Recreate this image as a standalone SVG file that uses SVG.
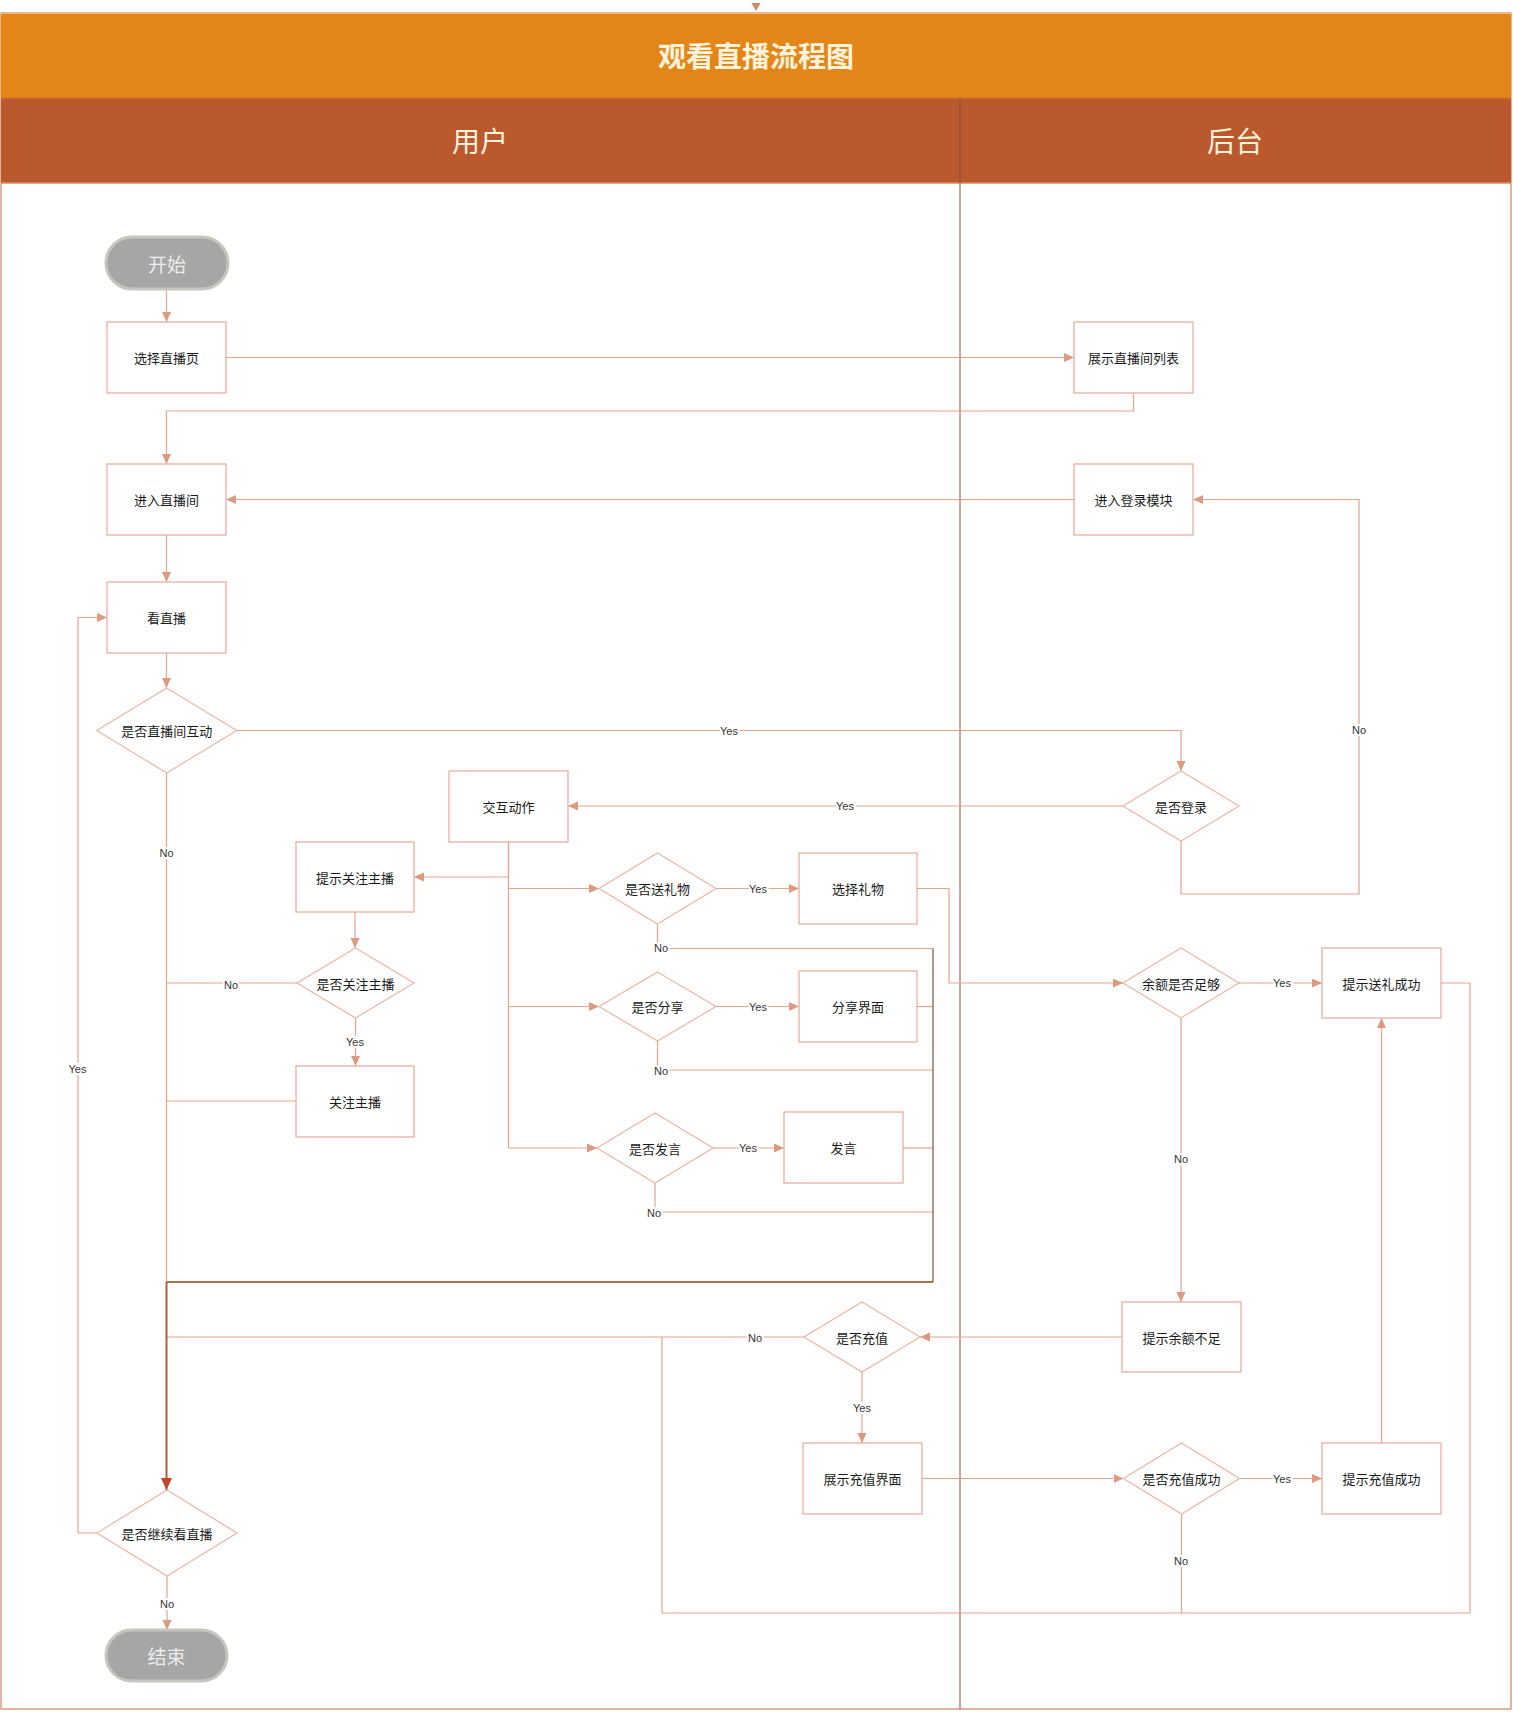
<svg xmlns="http://www.w3.org/2000/svg" width="1513" height="1712" viewBox="0 0 1513 1712">
<style>
.nd{fill:#fff;stroke:#E3AB9C;stroke-width:1.2}
.dm{fill:#fff;stroke:#E6B8A8;stroke-width:1.2}
.tx{font-family:"Noto Sans CJK SC","Liberation Sans",sans-serif;font-size:13px;fill:#1a1a1a;text-anchor:middle;dominant-baseline:central}
.lb{font-family:"Liberation Sans","Noto Sans CJK SC",sans-serif;font-size:11px;fill:#333;text-anchor:middle;dominant-baseline:central;stroke:#fff;stroke-width:4;paint-order:stroke}
.cn{fill:none;stroke:#E2A68E;stroke-width:1.2}
.dk{fill:none;stroke:#A8704F;stroke-width:2.2}
.dv{fill:none;stroke:#8E6A5C;stroke-width:1.4}
.st{fill:#A6A6A6;stroke:#C6C6BE;stroke-width:3}
.stt{font-family:"Noto Sans CJK SC",sans-serif;font-size:19px;fill:#EDEDED;text-anchor:middle;dominant-baseline:central}
.hd{font-family:"Noto Sans CJK SC",sans-serif;font-size:28px;fill:#FFF3DC;text-anchor:middle;dominant-baseline:central}
</style>
<defs>
<marker id="ar" markerUnits="userSpaceOnUse" markerWidth="11" markerHeight="10" refX="10" refY="4.5" orient="auto">
<path d="M0,0 L10,4.5 L0,9 z" fill="#DC9A7E"/>
</marker>
<marker id="ard" markerUnits="userSpaceOnUse" markerWidth="13" markerHeight="12" refX="12" refY="5.5" orient="auto">
<path d="M0,0 L12,5.5 L0,11 z" fill="#C0452A"/>
</marker>
</defs>
<rect x="0" y="0" width="1513" height="1712" fill="#fff"/>
<g id="frame">
<rect x="1" y="13" width="1510" height="1696" fill="none" stroke="#C9855A" stroke-width="1.2"/>
<rect x="1" y="13" width="1510" height="85" fill="#E48517"/>
<line x1="1" y1="13.5" x2="1511" y2="13.5" stroke="#F2C070" stroke-width="1"/>
<rect x="1" y="98" width="1510" height="85" fill="#BA592E"/>
<line x1="1" y1="98.5" x2="1511" y2="98.5" stroke="#C8642E" stroke-width="1.5"/>
<line x1="1" y1="183" x2="1511" y2="183" stroke="#D98C6A" stroke-width="1.5"/>
<line x1="960" y1="98" x2="960" y2="1709" stroke="#8B4E3E" stroke-width="1"/>
<polygon points="751.5,3 760.5,3 756,11" fill="#D08A60"/>
<text class="hd" x="756" y="55" font-weight="bold">观看直播流程图</text>
<text class="hd" x="480" y="140">用户</text>
<text class="hd" x="1235" y="140">后台</text>
</g>
<g id="connectors">
<path class="cn" d="M166.5,289 V322" marker-end="url(#ar)"/>
<path class="cn" d="M226,357.5 H1074" marker-end="url(#ar)"/>
<path class="cn" d="M1133.5,393 V411 H166.5 V464" marker-end="url(#ar)"/>
<path class="cn" d="M1074,499.5 H226" marker-end="url(#ar)"/>
<path class="cn" d="M166.5,535 V582" marker-end="url(#ar)"/>
<path class="cn" d="M166.5,653 V688" marker-end="url(#ar)"/>
<path class="cn" d="M236.7,730.5 H1181 V771" marker-end="url(#ar)"/>
<path class="cn" d="M1123,806 H568" marker-end="url(#ar)"/>
<path class="cn" d="M1181,841 V894 H1359 V499.5 H1193" marker-end="url(#ar)"/>
<path class="cn" d="M508.5,842 V877 H414" marker-end="url(#ar)"/>
<path class="cn" d="M508.5,842 V1148"/>
<path class="cn" d="M508.5,888.5 H599" marker-end="url(#ar)"/>
<path class="cn" d="M508.5,1006.5 H599" marker-end="url(#ar)"/>
<path class="cn" d="M508.5,1148 H597" marker-end="url(#ar)"/>
<path class="cn" d="M355,912 V948" marker-end="url(#ar)"/>
<path class="cn" d="M297,983 H166.5"/>
<path class="cn" d="M355.5,1018 V1066" marker-end="url(#ar)"/>
<path class="cn" d="M296,1101 H166.5"/>
<path class="cn" d="M166.5,773 V1282"/>
<path class="cn" d="M716,888.5 H799" marker-end="url(#ar)"/>
<path class="cn" d="M657.5,924 V948.5 H933"/>
<path class="cn" d="M716,1006.5 H799" marker-end="url(#ar)"/>
<path class="cn" d="M657.5,1041 V1070 H933"/>
<path class="cn" d="M713,1148 H784" marker-end="url(#ar)"/>
<path class="cn" d="M655,1183 V1212 H933"/>
<path class="cn" d="M917,1006.5 H933"/>
<path class="cn" d="M903,1148 H933"/>
<path class="dv" d="M933,948.5 V1282"/>
<path class="dk" d="M933,1282 H166.5"/>
<path class="cn" d="M917,888.5 H949 V983 H1123" marker-end="url(#ar)"/>
<path class="cn" d="M1239,983 H1322" marker-end="url(#ar)"/>
<path class="cn" d="M1181,1018 V1302" marker-end="url(#ar)"/>
<path class="cn" d="M1122,1337 H920" marker-end="url(#ar)"/>
<path class="cn" d="M804,1337 H166.5"/>
<path class="cn" d="M862,1372 V1443" marker-end="url(#ar)"/>
<path class="cn" d="M922,1478.5 H1123.5" marker-end="url(#ar)"/>
<path class="cn" d="M1239.5,1478.5 H1322" marker-end="url(#ar)"/>
<path class="cn" d="M1181.5,1513 V1613"/>
<path class="cn" d="M1381.5,1443 V1018" marker-end="url(#ar)"/>
<path class="cn" d="M1441,983 H1470 V1613 H662 V1337"/>
<path d="M166.5,1282 V1490" fill="none" stroke="#A8603F" stroke-width="2" marker-end="url(#ard)"/>
<path class="cn" d="M97,1533 H78 V617.5 H107" marker-end="url(#ar)"/>
<path class="cn" d="M167,1576 V1630" marker-end="url(#ar)"/>
<text class="lb" x="729" y="730.5">Yes</text>
<text class="lb" x="845" y="806">Yes</text>
<text class="lb" x="1359" y="730">No</text>
<text class="lb" x="166.5" y="853">No</text>
<text class="lb" x="231" y="985">No</text>
<text class="lb" x="355" y="1042">Yes</text>
<text class="lb" x="758" y="888.5">Yes</text>
<text class="lb" x="661" y="948">No</text>
<text class="lb" x="758" y="1006.5">Yes</text>
<text class="lb" x="661" y="1071">No</text>
<text class="lb" x="748" y="1148">Yes</text>
<text class="lb" x="654" y="1213">No</text>
<text class="lb" x="1282" y="983">Yes</text>
<text class="lb" x="1181" y="1159">No</text>
<text class="lb" x="755" y="1338">No</text>
<text class="lb" x="862" y="1408">Yes</text>
<text class="lb" x="1282" y="1479">Yes</text>
<text class="lb" x="1181" y="1561">No</text>
<text class="lb" x="77.5" y="1069">Yes</text>
<text class="lb" x="167" y="1604">No</text>
</g>
<g id="start"><rect class="st" x="106" y="237" width="122" height="52" rx="26"/><text class="stt" x="167" y="263">开始</text></g>
<g id="selectPage"><rect class="nd" x="107" y="322" width="119" height="71"/><text class="tx" x="166.5" y="357.5">选择直播页</text></g>
<g id="showList"><rect class="nd" x="1074" y="322" width="119" height="71"/><text class="tx" x="1133.5" y="357.5">展示直播间列表</text></g>
<g id="enterRoom"><rect class="nd" x="107" y="464" width="119" height="71"/><text class="tx" x="166.5" y="499.5">进入直播间</text></g>
<g id="loginModule"><rect class="nd" x="1074" y="464" width="119" height="71"/><text class="tx" x="1133.5" y="499.5">进入登录模块</text></g>
<g id="watch"><rect class="nd" x="107" y="582" width="119" height="71"/><text class="tx" x="166.5" y="617.5">看直播</text></g>
<g id="interact"><polygon class="dm" points="166.7,688 236.7,730.5 166.7,773 96.7,730.5"/><text class="tx" x="166.7" y="730.5">是否直播间互动</text></g>
<g id="isLogin"><polygon class="dm" points="1181,771 1239,806 1181,841 1123,806"/><text class="tx" x="1181" y="806">是否登录</text></g>
<g id="action"><rect class="nd" x="449" y="771" width="119" height="71"/><text class="tx" x="508.5" y="806.5">交互动作</text></g>
<g id="tipFollow"><rect class="nd" x="296" y="842" width="118" height="70"/><text class="tx" x="355" y="877">提示关注主播</text></g>
<g id="isFollow"><polygon class="dm" points="355.5,948 414,983 355.5,1018 297,983"/><text class="tx" x="355.5" y="983">是否关注主播</text></g>
<g id="follow"><rect class="nd" x="296" y="1066" width="118" height="71"/><text class="tx" x="355" y="1101.5">关注主播</text></g>
<g id="isGift"><polygon class="dm" points="657.5,853 716,888.5 657.5,924 599,888.5"/><text class="tx" x="657.5" y="888.5">是否送礼物</text></g>
<g id="chooseGift"><rect class="nd" x="799" y="853" width="118" height="71"/><text class="tx" x="858" y="888.5">选择礼物</text></g>
<g id="isShare"><polygon class="dm" points="657.5,972 716,1006.5 657.5,1041 599,1006.5"/><text class="tx" x="657.5" y="1006.5">是否分享</text></g>
<g id="share"><rect class="nd" x="799" y="971" width="118" height="71"/><text class="tx" x="858" y="1006.5">分享界面</text></g>
<g id="isSpeak"><polygon class="dm" points="655,1113 713,1148 655,1183 597,1148"/><text class="tx" x="655" y="1148">是否发言</text></g>
<g id="speak"><rect class="nd" x="784" y="1112" width="119" height="71"/><text class="tx" x="843.5" y="1147.5">发言</text></g>
<g id="balance"><polygon class="dm" points="1181,948 1239,983 1181,1018 1123,983"/><text class="tx" x="1181" y="983">余额是否足够</text></g>
<g id="giftOk"><rect class="nd" x="1322" y="948" width="119" height="70"/><text class="tx" x="1381.5" y="983">提示送礼成功</text></g>
<g id="lowBalance"><rect class="nd" x="1122" y="1302" width="119" height="70"/><text class="tx" x="1181.5" y="1337">提示余额不足</text></g>
<g id="isRecharge"><polygon class="dm" points="862,1302 920,1337 862,1372 804,1337"/><text class="tx" x="862" y="1337">是否充值</text></g>
<g id="rechargeUI"><rect class="nd" x="803" y="1443" width="119" height="71"/><text class="tx" x="862.5" y="1478.5">展示充值界面</text></g>
<g id="rechargeOkQ"><polygon class="dm" points="1181.5,1443 1239.5,1478.5 1181.5,1514 1123.5,1478.5"/><text class="tx" x="1181.5" y="1478.5">是否充值成功</text></g>
<g id="rechargeOk"><rect class="nd" x="1322" y="1443" width="119" height="71"/><text class="tx" x="1381.5" y="1478.5">提示充值成功</text></g>
<g id="continue"><polygon class="dm" points="167,1490 237,1533 167,1576 97,1533"/><text class="tx" x="167" y="1533">是否继续看直播</text></g>
<g id="end"><rect class="st" x="106" y="1630" width="121" height="51" rx="25.5"/><text class="stt" x="166.5" y="1655.5">结束</text></g>
</svg>
